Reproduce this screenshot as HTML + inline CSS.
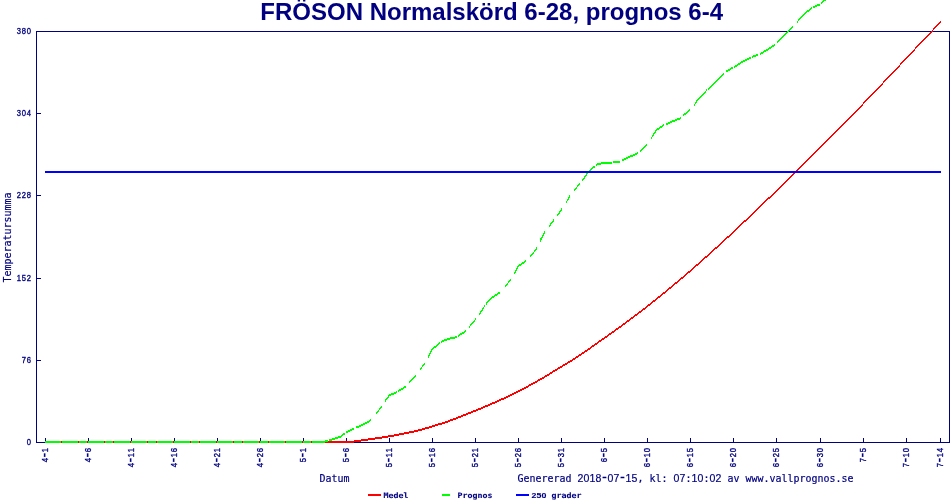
<!DOCTYPE html>
<html lang="sv"><head><meta charset="utf-8"><title>FRÖSON Normalskörd 6-28, prognos 6-4</title>
<style>
html,body{margin:0;padding:0;background:#fff;overflow:hidden}
svg{display:block}
text{fill:#000080;stroke:#000080;stroke-width:0.1px}
.m{font-family:"DejaVu Sans Mono","Liberation Mono",monospace;text-anchor:middle}
.d{font-family:"Liberation Sans",Arial,sans-serif;text-anchor:middle}
.ttl{font-family:"Liberation Sans",Arial,sans-serif;font-weight:bold;stroke:none}
</style></head><body>
<svg width="950" height="500" viewBox="0 0 950 500">
<rect x="0" y="0" width="950" height="500" fill="#ffffff"/>
<text class="ttl" x="260.3" y="20" font-size="24">FRÖSON Normalskörd 6-28, prognos 6-4</text>
<g shape-rendering="crispEdges" stroke="#000080" stroke-width="1" fill="none">
<rect x="36.5" y="31.5" width="913" height="411"/>
<line x1="36" y1="31.5" x2="41" y2="31.5"/>
<line x1="36" y1="113.5" x2="41" y2="113.5"/>
<line x1="36" y1="195.5" x2="41" y2="195.5"/>
<line x1="36" y1="278.5" x2="41" y2="278.5"/>
<line x1="36" y1="360.5" x2="41" y2="360.5"/>
<line x1="36" y1="442.5" x2="41" y2="442.5"/>
<line x1="45.5" y1="438" x2="45.5" y2="443"/>
<line x1="88.5" y1="438" x2="88.5" y2="443"/>
<line x1="131.5" y1="438" x2="131.5" y2="443"/>
<line x1="174.5" y1="438" x2="174.5" y2="443"/>
<line x1="217.5" y1="438" x2="217.5" y2="443"/>
<line x1="260.5" y1="438" x2="260.5" y2="443"/>
<line x1="303.5" y1="438" x2="303.5" y2="443"/>
<line x1="346.5" y1="438" x2="346.5" y2="443"/>
<line x1="389.5" y1="438" x2="389.5" y2="443"/>
<line x1="432.5" y1="438" x2="432.5" y2="443"/>
<line x1="475.5" y1="438" x2="475.5" y2="443"/>
<line x1="518.5" y1="438" x2="518.5" y2="443"/>
<line x1="561.5" y1="438" x2="561.5" y2="443"/>
<line x1="604.5" y1="438" x2="604.5" y2="443"/>
<line x1="647.5" y1="438" x2="647.5" y2="443"/>
<line x1="690.5" y1="438" x2="690.5" y2="443"/>
<line x1="733.5" y1="438" x2="733.5" y2="443"/>
<line x1="776.5" y1="438" x2="776.5" y2="443"/>
<line x1="820.5" y1="438" x2="820.5" y2="443"/>
<line x1="863.5" y1="438" x2="863.5" y2="443"/>
<line x1="906.5" y1="438" x2="906.5" y2="443"/>
<line x1="940.5" y1="438" x2="940.5" y2="443"/>
</g>
<text class="m" font-size="7.21" style="stroke-width:0.3px" transform="translate(16.5,34) scale(1,1.141)"><tspan class="d" font-size="7.64" x="2.5 7.5 12.5" y="0">380</tspan></text>
<text class="m" font-size="7.21" style="stroke-width:0.3px" transform="translate(16.5,116) scale(1,1.141)"><tspan class="d" font-size="7.64" x="2.5 7.5 12.5" y="0">304</tspan></text>
<text class="m" font-size="7.21" style="stroke-width:0.3px" transform="translate(16.5,198) scale(1,1.141)"><tspan class="d" font-size="7.64" x="2.5 7.5 12.5" y="0">228</tspan></text>
<text class="m" font-size="7.21" style="stroke-width:0.3px" transform="translate(16.5,281) scale(1,1.141)"><tspan class="d" font-size="7.64" x="2.5 7.5 12.5" y="0">152</tspan></text>
<text class="m" font-size="7.21" style="stroke-width:0.3px" transform="translate(21.5,363) scale(1,1.141)"><tspan class="d" font-size="7.64" x="2.5 7.5" y="0">76</tspan></text>
<text class="m" font-size="7.21" style="stroke-width:0.3px" transform="translate(26.5,445) scale(1,1.141)"><tspan class="d" font-size="7.64" x="2.5" y="0">0</tspan></text>
<text class="m" font-size="7.21" style="stroke-width:0.3px" transform="translate(48,462.5) rotate(-90) scale(1,1.141)"><tspan class="d" font-size="7.64" x="2.5" y="0">4</tspan><tspan font-size="12.99" x="7.5" y="1.01">-</tspan><tspan class="d" font-size="7.64" x="12.5" y="0">1</tspan></text>
<text class="m" font-size="7.21" style="stroke-width:0.3px" transform="translate(91,462.5) rotate(-90) scale(1,1.141)"><tspan class="d" font-size="7.64" x="2.5" y="0">4</tspan><tspan font-size="12.99" x="7.5" y="1.01">-</tspan><tspan class="d" font-size="7.64" x="12.5" y="0">6</tspan></text>
<text class="m" font-size="7.21" style="stroke-width:0.3px" transform="translate(134,467.5) rotate(-90) scale(1,1.141)"><tspan class="d" font-size="7.64" x="2.5" y="0">4</tspan><tspan font-size="12.99" x="7.5" y="1.01">-</tspan><tspan class="d" font-size="7.64" x="12.5 17.5" y="0">11</tspan></text>
<text class="m" font-size="7.21" style="stroke-width:0.3px" transform="translate(177,467.5) rotate(-90) scale(1,1.141)"><tspan class="d" font-size="7.64" x="2.5" y="0">4</tspan><tspan font-size="12.99" x="7.5" y="1.01">-</tspan><tspan class="d" font-size="7.64" x="12.5 17.5" y="0">16</tspan></text>
<text class="m" font-size="7.21" style="stroke-width:0.3px" transform="translate(220,467.5) rotate(-90) scale(1,1.141)"><tspan class="d" font-size="7.64" x="2.5" y="0">4</tspan><tspan font-size="12.99" x="7.5" y="1.01">-</tspan><tspan class="d" font-size="7.64" x="12.5 17.5" y="0">21</tspan></text>
<text class="m" font-size="7.21" style="stroke-width:0.3px" transform="translate(263,467.5) rotate(-90) scale(1,1.141)"><tspan class="d" font-size="7.64" x="2.5" y="0">4</tspan><tspan font-size="12.99" x="7.5" y="1.01">-</tspan><tspan class="d" font-size="7.64" x="12.5 17.5" y="0">26</tspan></text>
<text class="m" font-size="7.21" style="stroke-width:0.3px" transform="translate(306,462.5) rotate(-90) scale(1,1.141)"><tspan class="d" font-size="7.64" x="2.5" y="0">5</tspan><tspan font-size="12.99" x="7.5" y="1.01">-</tspan><tspan class="d" font-size="7.64" x="12.5" y="0">1</tspan></text>
<text class="m" font-size="7.21" style="stroke-width:0.3px" transform="translate(349,462.5) rotate(-90) scale(1,1.141)"><tspan class="d" font-size="7.64" x="2.5" y="0">5</tspan><tspan font-size="12.99" x="7.5" y="1.01">-</tspan><tspan class="d" font-size="7.64" x="12.5" y="0">6</tspan></text>
<text class="m" font-size="7.21" style="stroke-width:0.3px" transform="translate(392,467.5) rotate(-90) scale(1,1.141)"><tspan class="d" font-size="7.64" x="2.5" y="0">5</tspan><tspan font-size="12.99" x="7.5" y="1.01">-</tspan><tspan class="d" font-size="7.64" x="12.5 17.5" y="0">11</tspan></text>
<text class="m" font-size="7.21" style="stroke-width:0.3px" transform="translate(435,467.5) rotate(-90) scale(1,1.141)"><tspan class="d" font-size="7.64" x="2.5" y="0">5</tspan><tspan font-size="12.99" x="7.5" y="1.01">-</tspan><tspan class="d" font-size="7.64" x="12.5 17.5" y="0">16</tspan></text>
<text class="m" font-size="7.21" style="stroke-width:0.3px" transform="translate(478,467.5) rotate(-90) scale(1,1.141)"><tspan class="d" font-size="7.64" x="2.5" y="0">5</tspan><tspan font-size="12.99" x="7.5" y="1.01">-</tspan><tspan class="d" font-size="7.64" x="12.5 17.5" y="0">21</tspan></text>
<text class="m" font-size="7.21" style="stroke-width:0.3px" transform="translate(521,467.5) rotate(-90) scale(1,1.141)"><tspan class="d" font-size="7.64" x="2.5" y="0">5</tspan><tspan font-size="12.99" x="7.5" y="1.01">-</tspan><tspan class="d" font-size="7.64" x="12.5 17.5" y="0">26</tspan></text>
<text class="m" font-size="7.21" style="stroke-width:0.3px" transform="translate(564,467.5) rotate(-90) scale(1,1.141)"><tspan class="d" font-size="7.64" x="2.5" y="0">5</tspan><tspan font-size="12.99" x="7.5" y="1.01">-</tspan><tspan class="d" font-size="7.64" x="12.5 17.5" y="0">31</tspan></text>
<text class="m" font-size="7.21" style="stroke-width:0.3px" transform="translate(607,462.5) rotate(-90) scale(1,1.141)"><tspan class="d" font-size="7.64" x="2.5" y="0">6</tspan><tspan font-size="12.99" x="7.5" y="1.01">-</tspan><tspan class="d" font-size="7.64" x="12.5" y="0">5</tspan></text>
<text class="m" font-size="7.21" style="stroke-width:0.3px" transform="translate(650,467.5) rotate(-90) scale(1,1.141)"><tspan class="d" font-size="7.64" x="2.5" y="0">6</tspan><tspan font-size="12.99" x="7.5" y="1.01">-</tspan><tspan class="d" font-size="7.64" x="12.5 17.5" y="0">10</tspan></text>
<text class="m" font-size="7.21" style="stroke-width:0.3px" transform="translate(693,467.5) rotate(-90) scale(1,1.141)"><tspan class="d" font-size="7.64" x="2.5" y="0">6</tspan><tspan font-size="12.99" x="7.5" y="1.01">-</tspan><tspan class="d" font-size="7.64" x="12.5 17.5" y="0">15</tspan></text>
<text class="m" font-size="7.21" style="stroke-width:0.3px" transform="translate(736,467.5) rotate(-90) scale(1,1.141)"><tspan class="d" font-size="7.64" x="2.5" y="0">6</tspan><tspan font-size="12.99" x="7.5" y="1.01">-</tspan><tspan class="d" font-size="7.64" x="12.5 17.5" y="0">20</tspan></text>
<text class="m" font-size="7.21" style="stroke-width:0.3px" transform="translate(779,467.5) rotate(-90) scale(1,1.141)"><tspan class="d" font-size="7.64" x="2.5" y="0">6</tspan><tspan font-size="12.99" x="7.5" y="1.01">-</tspan><tspan class="d" font-size="7.64" x="12.5 17.5" y="0">25</tspan></text>
<text class="m" font-size="7.21" style="stroke-width:0.3px" transform="translate(823,467.5) rotate(-90) scale(1,1.141)"><tspan class="d" font-size="7.64" x="2.5" y="0">6</tspan><tspan font-size="12.99" x="7.5" y="1.01">-</tspan><tspan class="d" font-size="7.64" x="12.5 17.5" y="0">30</tspan></text>
<text class="m" font-size="7.21" style="stroke-width:0.3px" transform="translate(866,462.5) rotate(-90) scale(1,1.141)"><tspan class="d" font-size="7.64" x="2.5" y="0">7</tspan><tspan font-size="12.99" x="7.5" y="1.01">-</tspan><tspan class="d" font-size="7.64" x="12.5" y="0">5</tspan></text>
<text class="m" font-size="7.21" style="stroke-width:0.3px" transform="translate(909,467.5) rotate(-90) scale(1,1.141)"><tspan class="d" font-size="7.64" x="2.5" y="0">7</tspan><tspan font-size="12.99" x="7.5" y="1.01">-</tspan><tspan class="d" font-size="7.64" x="12.5 17.5" y="0">10</tspan></text>
<text class="m" font-size="7.21" style="stroke-width:0.3px" transform="translate(943,467.5) rotate(-90) scale(1,1.141)"><tspan class="d" font-size="7.64" x="2.5" y="0">7</tspan><tspan font-size="12.99" x="7.5" y="1.01">-</tspan><tspan class="d" font-size="7.64" x="12.5 17.5" y="0">14</tspan></text>
<text class="m" font-size="9.97" style="stroke-width:0.18px" transform="translate(319.5,482) scale(1,1.101)"><tspan x="3 9 15 21 27" y="0">Datum</tspan></text>
<text class="m" font-size="9.97" style="stroke-width:0.18px" transform="translate(517.5,482) scale(1,1.101)"><tspan x="3 9 15 21 27 33 39 45 51 57" y="0">Genererad </tspan><tspan class="d" font-size="10.56" x="63 69 75 81" y="0">2018</tspan><tspan font-size="13.95" x="87" y="0.28">-</tspan><tspan class="d" font-size="10.56" x="93 99" y="0">07</tspan><tspan font-size="13.95" x="105" y="0.28">-</tspan><tspan class="d" font-size="10.56" x="111 117" y="0">15</tspan><tspan x="123 129 135 141 147 153" y="0">, kl: </tspan><tspan class="d" font-size="10.56" x="159 165" y="0">07</tspan><tspan x="171" y="0">:</tspan><tspan class="d" font-size="10.56" x="177 183" y="0">10</tspan><tspan x="189" y="0">:</tspan><tspan class="d" font-size="10.56" x="195 201 207" y="0">02 </tspan><tspan x="213 219 225 231 237 243 249 255 261 267 273 279 285 291 297 303 309 315 321 327 333" y="0">av www.vallprognos.se</tspan></text>
<text class="m" font-size="9.97" style="stroke-width:0.18px" transform="translate(11,282.5) rotate(-90) scale(1,1.101)"><tspan x="3 9 15 21 27 33 39 45 51 57 63 69 75 81 87" y="0">Temperatursumma</tspan></text>
<g shape-rendering="crispEdges" stroke="none">
<path fill="#ff0000" d="M45.0 441.0L351.0 441.0L351.0 443.0L45.0 443.0ZM351.0 441.0L355.0 440.3L355.0 442.3L351.0 443.0ZM355.0 440.3L363.0 439.2L363.0 441.2L355.0 442.3ZM363.0 439.2L372.0 437.9L372.0 439.9L363.0 441.2ZM372.0 437.9L381.0 436.6L381.0 438.6L372.0 439.9ZM381.0 436.6L389.0 435.3L389.0 437.3L381.0 438.6ZM389.0 435.3L398.0 433.8L398.0 435.8L389.0 437.3ZM398.0 433.8L406.0 432.2L406.0 434.2L398.0 435.8ZM406.0 432.2L415.0 430.2L415.0 432.2L406.0 434.2ZM415.0 430.2L424.0 427.9L424.0 429.9L415.0 432.2ZM424.0 427.9L432.0 425.6L432.0 427.6L424.0 429.9ZM432.0 425.6L441.0 422.7L441.0 424.7L432.0 427.6ZM441.0 422.7L449.0 420.0L449.0 422.0L441.0 424.7ZM449.0 420.0L458.0 416.6L458.0 418.6L449.0 422.0ZM458.0 416.6L467.0 413.1L467.0 415.1L458.0 418.6ZM467.0 413.1L475.0 409.9L475.0 411.9L467.0 415.1ZM475.0 409.9L484.0 406.1L484.0 408.1L475.0 411.9ZM484.0 406.1L492.0 402.7L492.0 404.7L484.0 408.1ZM492.0 402.7L501.0 398.7L501.0 400.7L492.0 404.7ZM501.0 398.7L510.0 394.5L510.0 396.5L501.0 400.7ZM510.0 394.5L518.0 390.6L518.0 392.6L510.0 396.5ZM518.0 390.6L527.0 385.9L527.0 387.9L518.0 392.6ZM527.0 385.9L536.0 380.9L536.0 382.9L527.0 387.9ZM536.0 380.9L544.0 376.3L544.0 378.3L536.0 382.9ZM544.0 376.3L553.0 370.8L553.0 372.8L544.0 378.3ZM553.0 370.8L561.0 366.0L561.0 368.0L553.0 372.8ZM561.0 366.0L570.0 360.6L570.0 362.6L561.0 368.0ZM570.0 360.6L579.0 354.8L579.0 356.8L570.0 362.6ZM579.0 354.8L587.0 349.3L587.0 351.3L579.0 356.8ZM587.0 349.3L596.0 342.9L596.0 344.9L587.0 351.3ZM596.0 342.9L604.0 337.3L604.0 339.3L596.0 344.9ZM604.0 337.3L613.0 330.9L613.0 332.9L604.0 339.3ZM613.0 330.9L622.0 324.5L622.0 326.5L613.0 332.9ZM622.0 324.5L630.0 318.6L630.0 320.6L622.0 326.5ZM630.0 318.6L639.0 311.8L639.0 313.8L630.0 320.6ZM639.0 311.8L647.0 305.6L647.0 307.6L639.0 313.8ZM647.0 305.6L656.0 298.5L656.0 300.5L647.0 307.6ZM656.0 298.5L665.0 291.2L665.0 293.2L656.0 300.5ZM665.0 291.2L673.0 284.6L673.0 286.6L665.0 293.2ZM673.0 284.6L682.0 277.0L682.0 279.0L673.0 286.6ZM682.0 277.0L690.0 270.1L690.0 272.1L682.0 279.0ZM690.0 270.1L699.0 262.2L699.0 264.2L690.0 272.1ZM699.0 262.2L708.0 254.2L708.0 256.2L699.0 264.2ZM708.0 254.2L716.0 247.0L716.0 249.0L708.0 256.2ZM716.0 247.0L725.0 238.8L725.0 240.8L716.0 249.0ZM725.0 238.8L733.0 231.3L733.0 233.3L725.0 240.8ZM733.0 231.3L742.0 222.9L742.0 224.9L733.0 233.3ZM742.0 222.9L751.0 214.3L751.0 216.3L742.0 224.9ZM751.0 214.3L759.0 206.7L759.0 208.7L751.0 216.3ZM759.0 206.7L768.0 198.0L768.0 200.0L759.0 208.7ZM768.0 198.0L776.0 190.1L776.0 192.1L768.0 200.0ZM776.0 190.1L785.0 181.3L785.0 183.3L776.0 192.1ZM785.0 181.3L794.0 172.4L794.0 174.4L785.0 183.3ZM794.0 172.4L802.0 164.5L802.0 166.5L794.0 174.4ZM802.0 164.5L811.0 155.5L811.0 157.5L802.0 166.5ZM811.0 155.5L820.0 146.6L820.0 148.6L811.0 157.5ZM820.0 146.6L828.0 138.6L828.0 140.6L820.0 148.6ZM828.0 138.6L837.0 129.6L837.0 131.6L828.0 140.6ZM837.0 129.6L845.0 121.5L845.0 123.5L837.0 131.6ZM845.0 121.5L854.0 112.3L854.0 114.3L845.0 123.5ZM854.0 112.3L863.0 103.0L863.0 105.0L854.0 114.3ZM863.0 103.0L871.0 94.7L871.0 96.7L863.0 105.0ZM871.0 94.7L880.0 85.2L880.0 87.2L871.0 96.7ZM880.0 85.2L888.0 76.7L888.0 78.7L880.0 87.2ZM888.0 76.7L897.0 67.2L897.0 69.2L888.0 78.7ZM897.0 67.2L906.0 57.6L906.0 59.6L897.0 69.2ZM906.0 57.6L914.0 49.1L914.0 51.1L906.0 59.6ZM914.0 49.1L923.0 39.5L923.0 41.5L914.0 51.1ZM923.0 39.5L931.0 31.1L931.0 33.1L923.0 41.5ZM931.0 31.1L940.0 21.6L940.0 23.6L931.0 33.1ZM940.0 21.6L941.0 20.5L941.0 22.5L940.0 23.6Z"/>
<path fill="#00ff00" d="M45.0 441.0L324.8 441.0L324.8 443.0L45.0 443.0ZM324.8 440.0L325.0 439.5L325.0 443.5L324.8 444.0ZM325.0 440.5L328.3 439.5L328.3 441.5L325.0 442.5ZM329.3 439.2L335.0 437.5L335.0 439.5L329.3 441.2ZM335.0 437.5L340.0 436.0L340.0 438.0L335.0 439.5ZM340.0 436.0L344.8 432.4L344.8 434.4L340.0 438.0ZM346.4 431.3L354.0 427.5L354.0 429.5L346.4 433.3ZM355.5 426.9L360.0 425.0L360.0 427.0L355.5 428.9ZM360.0 425.0L368.0 421.0L368.0 423.0L360.0 427.0ZM368.0 421.0L370.9 418.6L370.9 420.6L368.0 423.0ZM376.0 412.6L376.5 412.0L376.5 414.0L376.0 414.6ZM376.5 412.0L381.6 406.0L381.6 408.0L376.5 414.0ZM384.8 400.6L386.0 398.7L386.0 401.3L384.8 403.2ZM386.0 398.8L389.0 394.4L389.0 396.8L386.0 401.2ZM389.0 394.6L396.5 391.2L396.5 393.2L389.0 396.6ZM398.0 390.4L405.0 386.0L405.0 388.0L398.0 392.4ZM405.0 386.0L406.0 385.0L406.0 387.0L405.0 388.0ZM409.3 381.7L410.0 381.0L410.0 383.0L409.3 383.7ZM410.0 381.0L416.0 374.0L416.0 376.0L410.0 383.0ZM419.5 369.3L424.7 362.3L424.7 364.5L419.5 371.4ZM428.1 355.5L432.0 348.0L432.0 351.0L428.1 358.6ZM432.0 348.5L439.6 342.2L439.6 344.2L432.0 350.5ZM441.2 340.9L448.0 338.0L448.0 340.0L441.2 342.9ZM448.0 338.0L456.0 336.4L456.0 338.4L448.0 340.0ZM456.0 336.4L456.7 335.9L456.7 337.9L456.0 338.4ZM458.3 334.9L465.0 330.6L465.0 332.6L458.3 336.9ZM465.0 330.6L465.7 329.8L465.7 331.8L465.0 332.6ZM469.2 325.9L470.0 325.0L470.0 327.0L469.2 327.9ZM470.0 325.0L475.0 319.0L475.0 321.0L470.0 327.0ZM475.0 319.0L475.6 318.2L475.6 320.3L475.0 321.0ZM479.1 313.7L480.0 312.6L480.0 314.6L479.1 315.8ZM480.0 312.3L484.0 305.7L484.0 308.3L480.0 314.9ZM484.0 305.9L484.7 304.9L484.7 307.1L484.0 308.1ZM486.0 303.1L489.0 298.9L489.0 301.1L486.0 305.3ZM489.0 299.0L494.0 295.4L494.0 297.4L489.0 301.0ZM494.0 295.4L499.4 291.6L499.4 293.6L494.0 297.4ZM499.4 291.6L499.5 291.5L499.5 293.5L499.4 293.6ZM505.3 285.5L505.4 285.4L505.4 287.4L505.3 287.5ZM505.4 285.4L510.6 278.6L510.6 280.6L505.4 287.4ZM510.6 278.3L510.7 278.1L510.7 280.8L510.6 280.9ZM514.1 272.5L514.6 271.7L514.6 274.3L514.1 275.1ZM514.6 271.4L518.0 264.8L518.0 268.0L514.6 274.6ZM518.0 265.4L525.0 260.6L525.0 262.6L518.0 267.4ZM525.0 260.6L525.6 260.0L525.6 262.0L525.0 262.6ZM530.4 255.2L531.0 254.6L531.0 256.6L530.4 257.2ZM531.0 254.6L536.0 248.5L536.0 250.5L531.0 256.6ZM536.0 247.8L536.5 246.8L536.5 250.1L536.0 251.2ZM540.3 238.8L541.0 237.3L541.0 240.7L540.3 242.2ZM541.0 237.5L544.4 231.1L544.4 234.1L541.0 240.5ZM544.4 231.5L544.5 231.4L544.5 233.5L544.4 233.7ZM548.5 226.1L548.6 225.9L548.6 228.1L548.5 228.2ZM548.6 225.9L553.6 219.3L553.6 221.5L548.6 228.1ZM556.5 215.6L557.0 215.0L557.0 217.0L556.5 217.7ZM557.0 214.8L561.4 208.4L561.4 210.8L557.0 217.2ZM561.4 208.4L561.6 208.1L561.6 210.5L561.4 210.8ZM566.1 201.1L566.6 200.4L566.6 202.8L566.1 203.6ZM566.6 200.2L570.4 193.6L570.4 196.4L566.6 203.0ZM573.6 190.1L574.0 189.6L574.0 191.6L573.6 192.1ZM574.0 189.6L579.5 183.1L579.5 185.1L574.0 191.6ZM582.4 179.3L583.0 178.6L583.0 180.6L582.4 181.4ZM583.0 178.4L588.0 171.2L588.0 173.6L583.0 180.8ZM588.0 171.4L594.0 166.0L594.0 168.0L588.0 173.4ZM594.0 166.0L594.7 165.4L594.7 167.4L594.0 168.0ZM596.3 164.0L597.0 163.4L597.0 165.4L596.3 166.0ZM597.0 163.4L603.0 162.0L603.0 164.0L597.0 165.4ZM603.0 162.0L611.0 161.6L611.0 163.6L603.0 164.0ZM611.0 161.6L611.5 161.5L611.5 163.5L611.0 163.6ZM613.3 161.3L619.6 160.6L619.6 162.6L613.3 163.3ZM619.6 160.6L620.3 160.3L620.3 162.3L619.6 162.6ZM622.2 159.3L627.0 157.0L627.0 159.0L622.2 161.3ZM627.0 157.0L634.0 154.0L634.0 156.0L627.0 159.0ZM634.0 154.0L637.9 152.0L637.9 154.0L634.0 156.0ZM639.5 150.9L642.0 148.5L642.0 150.5L639.5 152.9ZM642.0 148.5L646.8 143.2L646.8 145.2L642.0 150.5ZM651.3 136.9L652.0 135.9L652.0 138.1L651.3 139.1ZM652.0 135.7L656.0 129.1L656.0 131.7L652.0 138.3ZM656.0 129.4L663.9 124.1L663.9 126.1L656.0 131.4ZM665.5 123.4L672.0 120.6L672.0 122.6L665.5 125.4ZM672.0 120.6L680.0 117.4L680.0 119.4L672.0 122.6ZM680.0 117.4L681.2 116.4L681.2 118.4L680.0 119.4ZM682.5 115.2L689.0 109.6L689.0 111.6L682.5 117.2ZM689.0 109.6L689.7 108.8L689.7 110.8L689.0 111.6ZM694.3 103.8L695.0 103.0L695.0 105.0L694.3 105.8ZM695.0 102.7L698.0 97.7L698.0 100.3L695.0 105.3ZM698.0 98.0L706.0 90.0L706.0 92.0L698.0 100.0ZM706.0 90.0L707.1 88.9L707.1 90.9L706.0 92.0ZM708.4 87.7L713.0 83.2L713.0 85.2L708.4 89.7ZM713.0 83.2L723.0 74.0L723.0 76.0L713.0 85.2ZM723.0 74.0L723.9 73.0L723.9 75.0L723.0 76.0ZM725.5 71.3L726.0 70.8L726.0 72.8L725.5 73.3ZM726.0 70.8L733.1 66.5L733.1 68.5L726.0 72.8ZM734.4 65.8L744.0 60.0L744.0 62.0L734.4 67.8ZM744.0 60.0L751.2 56.4L751.2 58.4L744.0 62.0ZM752.2 55.9L754.0 55.0L754.0 57.0L752.2 57.9ZM754.0 55.0L758.2 53.9L758.2 55.9L754.0 57.0ZM759.5 53.5L760.0 53.4L760.0 55.4L759.5 55.5ZM760.0 53.4L769.0 47.6L769.0 49.6L760.0 55.4ZM769.0 47.6L775.2 43.5L775.2 45.5L769.0 49.6ZM777.1 41.9L784.0 35.0L784.0 37.0L777.1 43.9ZM784.0 35.0L792.0 26.6L792.0 28.6L784.0 37.0ZM792.0 26.6L792.8 25.7L792.8 27.7L792.0 28.6ZM797.3 20.8L798.0 20.0L798.0 22.0L797.3 22.8ZM798.0 20.0L804.0 13.4L804.0 15.4L798.0 22.0ZM804.0 13.4L811.5 7.0L811.5 9.0L804.0 15.4ZM812.5 6.4L819.5 3.6L819.5 5.6L812.5 8.4ZM820.5 3.0L825.0 -1.0L825.0 1.0L820.5 5.0ZM825.0 -1.0L827.0 -3.0L827.0 -1.0L825.0 1.0Z"/>
<rect fill="#0000ff" x="45" y="171" width="896" height="2"/>
<rect fill="#ff0000" x="61" y="441" width="1" height="2"/>
<rect fill="#ff0000" x="78" y="441" width="1" height="2"/>
<rect fill="#ff0000" x="87" y="441" width="1" height="2"/>
<rect fill="#ff0000" x="104" y="441" width="1" height="2"/>
<rect fill="#ff0000" x="113" y="441" width="1" height="2"/>
<rect fill="#ff0000" x="130" y="441" width="1" height="2"/>
<rect fill="#ff0000" x="147" y="441" width="1" height="2"/>
<rect fill="#ff0000" x="156" y="441" width="1" height="2"/>
<rect fill="#ff0000" x="173" y="441" width="1" height="2"/>
<rect fill="#ff0000" x="190" y="441" width="1" height="2"/>
<rect fill="#ff0000" x="199" y="441" width="1" height="2"/>
<rect fill="#ff0000" x="216" y="441" width="1" height="2"/>
<rect fill="#ff0000" x="233" y="441" width="1" height="2"/>
<rect fill="#ff0000" x="242" y="441" width="1" height="2"/>
<rect fill="#ff0000" x="259" y="441" width="1" height="2"/>
<rect fill="#ff0000" x="268" y="441" width="1" height="2"/>
<rect fill="#ff0000" x="285" y="441" width="1" height="2"/>
<rect fill="#ff0000" x="302" y="441" width="1" height="2"/>
<rect fill="#ff0000" x="311" y="441" width="1" height="2"/>
<rect fill="#ff0000" x="368" y="494" width="13" height="2"/>
<rect fill="#00ff00" x="442" y="494" width="8" height="2"/>
<rect fill="#0000ff" x="516" y="494" width="13" height="2"/>
</g>
<text class="m" font-size="8.31" font-weight="bold" transform="translate(383.5,498) scale(1,0.908)"><tspan x="2.5 7.5 12.5 17.5 22.5" y="0">Medel</tspan></text>
<text class="m" font-size="8.31" font-weight="bold" transform="translate(457.5,498) scale(1,0.908)"><tspan x="2.5 7.5 12.5 17.5 22.5 27.5 32.5" y="0">Prognos</tspan></text>
<text class="m" font-size="8.31" font-weight="bold" transform="translate(531.5,498) scale(1,0.908)"><tspan class="d" font-size="8.80" x="2.5 7.5 12.5 17.5" y="0">250 </tspan><tspan x="22.5 27.5 32.5 37.5 42.5 47.5" y="0">grader</tspan></text>
</svg>
</body></html>
